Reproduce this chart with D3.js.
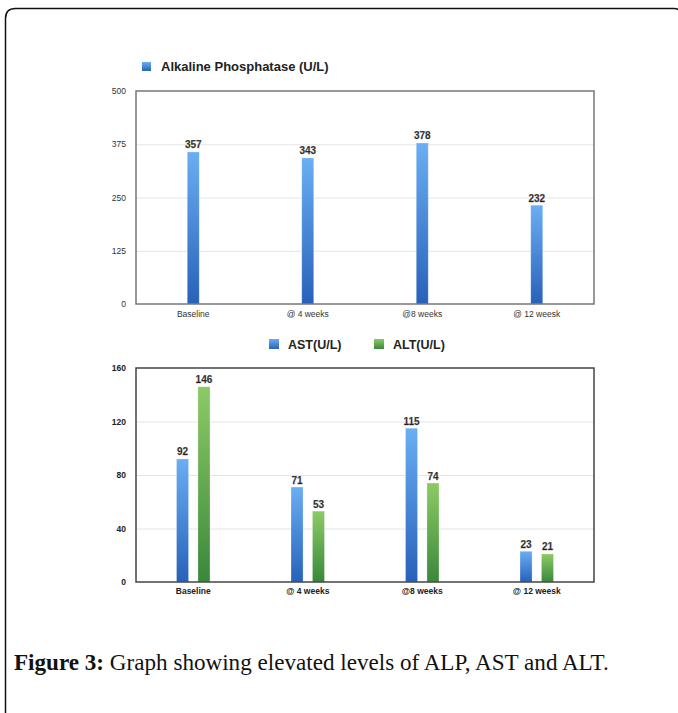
<!DOCTYPE html>
<html>
<head>
<meta charset="utf-8">
<script src="https://cdn.jsdelivr.net/npm/d3@7"></script>
<style>
  html, body { margin: 0; padding: 0; background: #fff; }
  svg { display: block; }
</style>
</head>
<body>
<script>
// Time points shared by both panels
const timepoints = ["Baseline", "@ 4 weeks", "@8 weeks", "@ 12 weesk"];

// Alkaline phosphatase (U/L)
const alpValues = [357, 343, 378, 232];
const alpTicks = [0, 125, 250, 375, 500];

// Transaminases (U/L)
const astValues = [92, 71, 115, 23];
const altValues = [146, 53, 74, 21];
const enzymeTicks = [0, 40, 80, 120, 160];
const enzymeSeries = ["AST(U/L)", "ALT(U/L)"];

const W = 678, H = 713;
const svg = d3.select("body").append("svg").attr("width", W).attr("height", H);
const defs = svg.append("defs");

function gradient(id, top, bottom) {
  const g = defs.append("linearGradient").attr("id", id)
    .attr("x1", 0).attr("y1", 0).attr("x2", 0).attr("y2", 1);
  g.append("stop").attr("offset", "0%").attr("stop-color", top);
  g.append("stop").attr("offset", "100%").attr("stop-color", bottom);
}
gradient("gBlue", "#6aaef3", "#2861b9");
gradient("gGreen", "#8dca66", "#3a883c");
const fills = { "AST(U/L)": "url(#gBlue)", "ALT(U/L)": "url(#gGreen)" };
const swatch = { "AST(U/L)": "url(#gBlue)", "ALT(U/L)": "url(#gGreen)" };

// Outer frame, rounded at the top, open past the right edge
const r = 10;
svg.append("path")
  .attr("d", `M5.5,${H + 2} L5.5,${8.5 + r} Q5.5,8.5 ${5.5 + r},8.5 L${W - 4},8.5 Q${W + 4},8.5 ${W + 4},${8.5 + r} L${W + 4},${H + 2}`)
  .attr("fill", "none").attr("stroke", "#111").attr("stroke-width", 1.5);

const FONT = "'Liberation Sans', Arial, Helvetica, sans-serif";
const plotL = 136, plotR = 594;

const x = d3.scaleBand().domain(timepoints).range([plotL, plotR]).padding(0);

// ---------- Panel 1: ALP ----------
{
  const top = 91, bottom = 304;
  const y = d3.scaleLinear().domain([0, 500]).range([bottom, top]);

  // legend
  svg.append("rect").attr("x", 142).attr("y", 62).attr("width", 9).attr("height", 9)
    .attr("fill", "url(#gBlue)");
  svg.append("text").attr("x", 161).attr("y", 71)
    .attr("font-family", FONT).attr("font-weight", "bold").attr("font-size", 13)
    .attr("fill", "#222").text("Alkaline Phosphatase (U/L)");

  // gridlines
  svg.append("g").selectAll("line").data(alpTicks.filter(t => t > 0 && t < 500)).join("line")
    .attr("x1", plotL).attr("x2", plotR)
    .attr("y1", d => y(d) + 0.5).attr("y2", d => y(d) + 0.5)
    .attr("stroke", "#e4e4e4").attr("stroke-width", 1);

  // y axis labels
  const ya = svg.append("g").attr("transform", `translate(${plotL},0)`)
    .call(d3.axisLeft(y).tickValues(alpTicks).tickSize(0).tickPadding(10));
  ya.select(".domain").remove();
  ya.selectAll("text").attr("font-family", FONT).attr("font-size", 8.5).attr("fill", "#333");

  // bars
  svg.append("g").selectAll("rect").data(alpValues).join("rect")
    .attr("x", (d, i) => x(timepoints[i]) + x.bandwidth() / 2 - 6)
    .attr("width", 12)
    .attr("y", d => y(d))
    .attr("height", d => bottom - y(d))
    .attr("fill", "url(#gBlue)")
    .attr("stroke", "rgba(255,255,255,0.35)").attr("stroke-width", 0.8);

  // value labels
  svg.append("g").selectAll("text").data(alpValues).join("text")
    .attr("x", (d, i) => x(timepoints[i]) + x.bandwidth() / 2)
    .attr("y", d => y(d) - 3.5)
    .attr("text-anchor", "middle")
    .attr("font-family", FONT).attr("font-weight", "bold").attr("font-size", 10)
    .attr("fill", "#1e1e1e").attr("stroke", "#777").attr("stroke-width", 0.25)
    .text(d => d);

  // plot frame
  svg.append("rect").attr("x", plotL).attr("y", top)
    .attr("width", plotR - plotL).attr("height", bottom - top)
    .attr("fill", "none").attr("stroke", "#777").attr("stroke-width", 1.5);

  // x axis labels
  const xa = svg.append("g").attr("transform", `translate(0,${bottom})`)
    .call(d3.axisBottom(x).tickSize(0).tickPadding(7));
  xa.select(".domain").remove();
  xa.selectAll("text").attr("font-family", FONT).attr("font-size", 8.5).attr("fill", "#333");
}

// ---------- Panel 2: AST / ALT ----------
{
  const top = 368, bottom = 582;
  const y = d3.scaleLinear().domain([0, 160]).range([bottom, top]);
  const x1 = d3.scaleBand().domain(enzymeSeries).range([-16.75, 16.75]).paddingInner(9.5 / 21.75);
  const seriesData = { "AST(U/L)": astValues, "ALT(U/L)": altValues };

  // legend
  const legX = [269, 374];
  enzymeSeries.forEach((s, i) => {
    svg.append("rect").attr("x", legX[i]).attr("y", 339).attr("width", 10).attr("height", 10)
      .attr("fill", swatch[s]);
    svg.append("text").attr("x", legX[i] + 19).attr("y", 349)
      .attr("font-family", FONT).attr("font-weight", "bold").attr("font-size", 12.5)
      .attr("fill", "#222").text(s);
  });

  // gridlines
  svg.append("g").selectAll("line").data(enzymeTicks.filter(t => t > 0 && t < 160)).join("line")
    .attr("x1", plotL).attr("x2", plotR)
    .attr("y1", d => y(d) + 0.5).attr("y2", d => y(d) + 0.5)
    .attr("stroke", "#e4e4e4").attr("stroke-width", 1);

  // y axis labels
  const ya = svg.append("g").attr("transform", `translate(${plotL},0)`)
    .call(d3.axisLeft(y).tickValues(enzymeTicks).tickSize(0).tickPadding(10));
  ya.select(".domain").remove();
  ya.selectAll("text").attr("font-family", FONT).attr("font-weight", "bold")
    .attr("font-size", 8.5).attr("fill", "#222");

  // grouped bars
  const rows = [];
  enzymeSeries.forEach(s => seriesData[s].forEach((v, i) => rows.push({ s, t: timepoints[i], v })));

  svg.append("g").selectAll("rect").data(rows).join("rect")
    .attr("x", d => x(d.t) + x.bandwidth() / 2 + x1(d.s))
    .attr("width", x1.bandwidth())
    .attr("y", d => y(d.v))
    .attr("height", d => bottom - y(d.v))
    .attr("fill", d => fills[d.s])
    .attr("stroke", "rgba(255,255,255,0.35)").attr("stroke-width", 0.8);

  svg.append("g").selectAll("text").data(rows).join("text")
    .attr("x", d => x(d.t) + x.bandwidth() / 2 + x1(d.s) + x1.bandwidth() / 2)
    .attr("y", d => y(d.v) - 3.5)
    .attr("text-anchor", "middle")
    .attr("font-family", FONT).attr("font-weight", "bold").attr("font-size", 10)
    .attr("fill", "#1e1e1e").attr("stroke", "#777").attr("stroke-width", 0.25)
    .text(d => d.v);

  // plot frame
  svg.append("rect").attr("x", plotL).attr("y", top)
    .attr("width", plotR - plotL).attr("height", bottom - top)
    .attr("fill", "none").attr("stroke", "#444").attr("stroke-width", 1.5);

  // x axis labels
  const xa = svg.append("g").attr("transform", `translate(0,${bottom})`)
    .call(d3.axisBottom(x).tickSize(0).tickPadding(6));
  xa.select(".domain").remove();
  xa.selectAll("text").attr("font-family", FONT).attr("font-weight", "bold")
    .attr("font-size", 8.5).attr("fill", "#222");
}

// ---------- Caption ----------
{
  const cap = svg.append("text").attr("x", 14).attr("y", 670)
    .attr("font-family", "'Liberation Serif', 'Times New Roman', serif")
    .attr("font-size", 21).attr("fill", "#111");
  cap.append("tspan").attr("font-weight", "bold").text("Figure 3:");
  cap.append("tspan").text(" Graph showing elevated levels of ALP, AST and ALT.");
  const w = cap.node().getComputedTextLength();
  const targetW = 595;
  cap.attr("font-size", 21 * targetW / w);
}
</script>
</body>
</html>
